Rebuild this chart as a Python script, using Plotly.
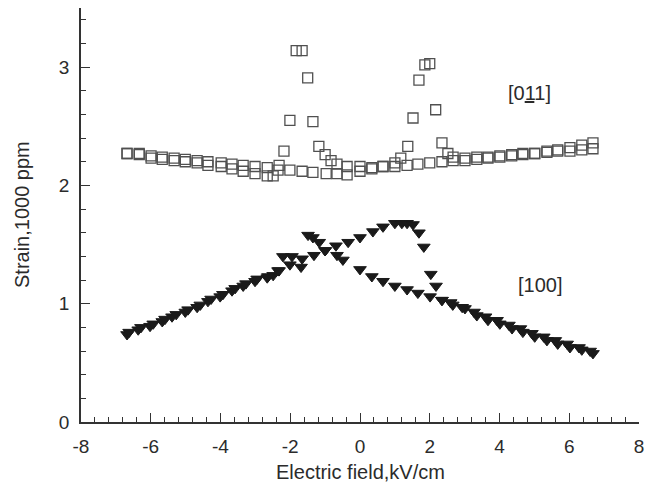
import plotly.graph_objects as go

# ---------------- data ----------------
# [011] open squares: ascending sweep (-E -> +E)
sq_up_x = [-6.68, -6.33, -5.99, -5.67, -5.33, -5.01, -4.67, -4.36, -3.98, -3.67,
           -3.35, -3.01, -2.66, -2.49, -2.35, -2.01, -1.66, -1.35, -0.97, -0.66,
           -0.37, 0.00, 0.34, 0.66, 1.00, 1.17, 1.37, 1.52, 1.69, 1.86,
           2.00, 2.17, 2.35, 2.52, 2.67, 3.01, 3.35, 3.67, 4.01, 4.35,
           4.67, 5.01, 5.36, 5.67, 6.02, 6.36, 6.68]
sq_up_y = [2.27, 2.26, 2.23, 2.22, 2.21, 2.20, 2.19, 2.17, 2.16, 2.14,
           2.12, 2.10, 2.08, 2.08, 2.13, 2.13, 2.12, 2.11, 2.10, 2.10,
           2.09, 2.12, 2.14, 2.16, 2.19, 2.23, 2.33, 2.57, 2.89, 3.02,
           3.03, 2.64, 2.36, 2.27, 2.24, 2.23, 2.24, 2.24, 2.25, 2.26,
           2.27, 2.27, 2.28, 2.29, 2.29, 2.30, 2.31]
# [011] open squares: descending sweep (+E -> -E)
sq_dn_x = [6.68, 6.36, 6.02, 5.67, 5.36, 5.01, 4.67, 4.35, 4.01, 3.67,
           3.35, 3.01, 2.67, 2.35, 2.00, 1.66, 1.35, 1.00, 0.66, 0.34,
           0.00, -0.37, -0.66, -0.83, -1.00, -1.18, -1.35, -1.50, -1.66, -1.83,
           -2.01, -2.18, -2.32, -2.66, -3.01, -3.35, -3.67, -3.98, -4.36, -4.67,
           -5.01, -5.33, -5.67, -5.99, -6.33, -6.68]
sq_dn_y = [2.36, 2.34, 2.32, 2.30, 2.29, 2.27, 2.26, 2.25, 2.24, 2.23,
           2.22, 2.21, 2.21, 2.20, 2.19, 2.18, 2.17, 2.16, 2.16, 2.15,
           2.16, 2.16, 2.18, 2.21, 2.26, 2.33, 2.54, 2.91, 3.14, 3.14,
           2.55, 2.29, 2.17, 2.15, 2.16, 2.17, 2.18, 2.19, 2.20, 2.21,
           2.22, 2.23, 2.24, 2.25, 2.27, 2.27]

# [100] filled down-triangles: ascending sweep
tr_up_x = [-6.68, -6.36, -6.02, -5.67, -5.39, -5.01, -4.67, -4.36, -4.01, -3.67,
           -3.35, -3.01, -2.66, -2.49, -2.35, -2.01, -1.66, -1.32, -1.00, -0.69,
           -0.34, 0.00, 0.37, 0.66, 1.00, 1.20, 1.35, 1.52, 1.69, 1.83,
           2.03, 2.18, 2.35, 2.66, 3.01, 3.35, 3.67, 4.01, 4.36, 4.67,
           5.01, 5.36, 5.67, 6.02, 6.36, 6.68]
tr_up_y = [0.74, 0.78, 0.81, 0.85, 0.89, 0.93, 0.97, 1.02, 1.06, 1.11,
           1.15, 1.19, 1.22, 1.24, 1.28, 1.33, 1.38, 1.41, 1.45, 1.49,
           1.52, 1.56, 1.61, 1.65, 1.68, 1.68, 1.68, 1.67, 1.60, 1.48,
           1.25, 1.15, 1.03, 0.99, 0.96, 0.90, 0.86, 0.83, 0.79, 0.76,
           0.72, 0.69, 0.66, 0.63, 0.61, 0.58]
# [100] filled down-triangles: descending sweep
tr_dn_x = [6.60, 6.28, 5.94, 5.60, 5.27, 4.93, 4.60, 4.27, 3.93, 3.60,
           3.27, 2.93, 2.60, 2.35, 2.01, 1.66, 1.35, 1.00, 0.66, 0.34,
           0.00, -0.49, -0.66, -1.00, -1.17, -1.35, -1.49, -1.69, -1.95, -2.21,
           -2.32, -2.64, -2.95, -3.27, -3.58, -3.93, -4.27, -4.58, -4.93, -5.27,
           -5.59, -5.93, -6.28, -6.62]
tr_dn_y = [0.60, 0.63, 0.66, 0.69, 0.72, 0.75, 0.79, 0.82, 0.86, 0.89,
           0.93, 0.97, 1.01, 1.03, 1.06, 1.09, 1.12, 1.15, 1.19, 1.23,
           1.29, 1.37, 1.41, 1.45, 1.52, 1.56, 1.58, 1.31, 1.40, 1.40,
           1.28, 1.23, 1.21, 1.17, 1.13, 1.08, 1.04, 0.99, 0.95, 0.91,
           0.87, 0.83, 0.80, 0.76]

x_tick_vals = [-8, -6, -4, -2, 0, 2, 4, 6, 8]
x_tick_text = ["-8", "-6", "-4", "-2", "0", "2", "4", "6", "8"]
y_tick_vals = [0, 1, 2, 3]
y_tick_text = ["0", "1", "2", "3"]

x_title = "Electric field,kV/cm"
y_title = "Strain,1000 ppm"
label_011 = "[0<u>1</u>1]"
label_100 = "[100]"
label_011_pos = (4.87, 2.78)
label_100_pos = (5.16, 1.16)

# ---------------- figure ----------------
FONT = "Liberation Sans, Arial, sans-serif"
TXT = "#2b2b2b"
AX = "#333333"

fig = go.Figure()
sq_marker = dict(symbol="square-open", size=10, color="#505050", line=dict(width=1.3, color="#505050"))
tr_marker = dict(symbol="triangle-down", size=11, color="#1a1a1a", line=dict(width=1, color="#1a1a1a"))

fig.add_trace(go.Scatter(x=sq_up_x, y=sq_up_y, mode="markers", marker=sq_marker, showlegend=False))
fig.add_trace(go.Scatter(x=sq_dn_x, y=sq_dn_y, mode="markers", marker=sq_marker, showlegend=False))
fig.add_trace(go.Scatter(x=tr_up_x, y=tr_up_y, mode="markers", marker=tr_marker, showlegend=False))
fig.add_trace(go.Scatter(x=tr_dn_x, y=tr_dn_y, mode="markers", marker=tr_marker, showlegend=False))

fig.add_annotation(x=label_011_pos[0], y=label_011_pos[1], text=label_011, showarrow=False,
                   font=dict(family=FONT, size=20, color=TXT))
fig.add_annotation(x=label_100_pos[0], y=label_100_pos[1], text=label_100, showarrow=False,
                   font=dict(family=FONT, size=20, color=TXT))
# axis titles
fig.add_annotation(xref="paper", yref="paper", x=0.5, y=0, yanchor="middle", yshift=-50,
                   text=x_title, showarrow=False, font=dict(family=FONT, size=20, color=TXT))
fig.add_annotation(xref="paper", yref="paper", x=0, y=0.5, xanchor="center", xshift=-59,
                   text=y_title, textangle=-90, showarrow=False,
                   font=dict(family=FONT, size=20, color=TXT))

# page body adds an 8px offset, so the figure is sized/margined to compensate
fig.update_layout(
    width=648, height=482,
    margin=dict(l=73, r=17, t=0, b=68, autoexpand=False),
    paper_bgcolor="white", plot_bgcolor="white",
    font=dict(family=FONT, size=19, color=TXT),
)
fig.update_xaxes(
    range=[-8, 8], showgrid=False, zeroline=False, automargin=False,
    showline=True, linecolor=AX, linewidth=1.5,
    ticks="inside", ticklen=9, tickwidth=1.3, tickcolor=AX,
    tickvals=x_tick_vals, ticktext=x_tick_text,
    tickfont=dict(family=FONT, size=19, color=TXT),
    ticklabelstandoff=6,
    minor=dict(ticks="inside", ticklen=5, tickwidth=1.2, tickcolor=AX, dtick=0.4, tick0=-8),
)
fig.update_yaxes(
    range=[0, 3.5], showgrid=False, zeroline=False, automargin=False,
    showline=True, linecolor=AX, linewidth=1.5,
    ticks="inside", ticklen=9, tickwidth=1.3, tickcolor=AX,
    tickvals=y_tick_vals, ticktext=y_tick_text,
    tickfont=dict(family=FONT, size=19, color=TXT),
    ticklabelstandoff=6,
    minor=dict(ticks="inside", ticklen=5, tickwidth=1.2, tickcolor=AX, dtick=0.2, tick0=0),
)

fig.write_html("out.html")
